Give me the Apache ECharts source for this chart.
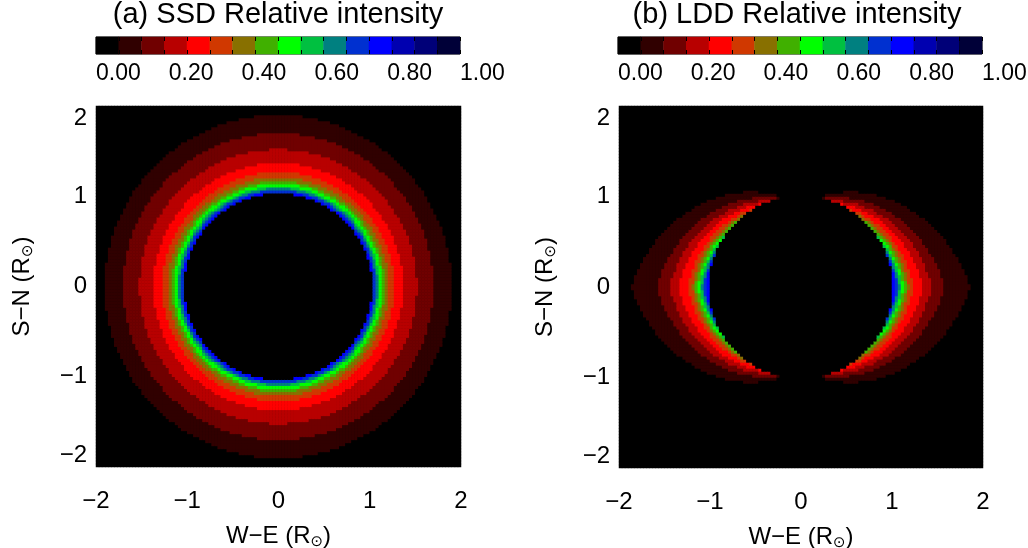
<!DOCTYPE html>
<html>
<head>
<meta charset="utf-8">
<script src="https://cdn.jsdelivr.net/npm/echarts@6/dist/echarts.min.js"></script>
<style>
  html, body { margin: 0; padding: 0; background: #fff; }
  #chart { width: 1028px; height: 548px; }
</style>
</head>
<body>
<div id="chart"></div>
<script>
// grid of the two images: 120 x 120 cells over -2..2 R_sun
const cellCount = 120;
const axisMin = -2;
const axisMax = 2;

// 16 colour levels of the colour bar (0.00 .. 1.00)
const levelColors = ['#000000', '#300000', '#700000', '#b80000', '#ff0000', '#d03800', '#887000', '#40b000',
    '#00ff00', '#00c040', '#008080', '#0030d0', '#0000ff', '#0000b0', '#000078', '#000038'];
const barLevels = [0, 1, 2, 3, 4, 5, 6, 7, 8, 9, 10, 11, 12, 13, 14, 15];

// SSD: radius (R_sun) inside which the level is at least k (k = 1..12)
const ssdOccult = 1.03;
const ssdEdgeRadius = [1.90, 1.70, 1.52, 1.37, 1.27, 1.21, 1.17, 1.14, 1.11, 1.09, 1.07, 1.05];

// LDD: equator tip (R_sun) of level k and angle from the equator (deg) where it meets the occulter
const lddOccult = 1.01;
const lddTipX = [1.86, 1.58, 1.44, 1.34, 1.24, 1.19, 1.16, 1.13, 1.11, 1.09, 1.07, 1.05];
const lddEndAngle = [79, 76, 72, 67, 61, 54, 47, 40, 34, 28, 22, 17];

const fontMain = 'Liberation Sans, DejaVu Sans, sans-serif';

function ssdLevel(x, y) {
    const r = Math.hypot(x, y);
    if (r < ssdOccult) return 0;
    let lv = 0;
    ssdEdgeRadius.forEach(function (e, k) {
        if (r < e) lv = k + 1;
    });
    return lv;
}

function lddLevel(x, y) {
    const r = Math.hypot(x, y);
    if (r < lddOccult) return 0;
    const theta = Math.atan2(Math.abs(y), Math.abs(x)) * 180 / Math.PI;
    let lv = 0;
    lddTipX.forEach(function (tip, k) {
        const t = theta / lddEndAngle[k];
        if (t >= 1) return;
        const edge = lddOccult + (tip - lddOccult) * (1 - t);
        if (r <= edge) lv = k + 1;
    });
    return lv;
}

function buildCells(levelFn) {
    const step = (axisMax - axisMin) / cellCount;
    const data = [];
    for (let i = 0; i < cellCount; i++) {
        for (let j = 0; j < cellCount; j++) {
            const x = axisMin + (i + 0.5) * step;
            const y = axisMin + (j + 0.5) * step;
            data.push([i, j, levelFn(x, y)]);
        }
    }
    return data;
}

function minusLabel(v) {
    return String(v).replace('-', '\u2212');
}

function initChart() {
    const chart = echarts.init(document.getElementById('chart'), null, { renderer: 'canvas' });
    const cellIndex = [];
    for (let i = 0; i < cellCount; i++) cellIndex.push(String(i));

    const hiddenCat = function (grid, data, pos) {
        return {
            type: 'category', gridIndex: grid, data: data, show: false,
            position: pos, boundaryGap: true
        };
    };
    // colour-bar block boundaries get small inward ticks on both edges
    const barTicks = function (grid, pos) {
        return {
            type: 'category', gridIndex: grid, data: barLevels, position: pos, boundaryGap: true, z: 10,
            axisLine: { show: false }, axisLabel: { show: false }, splitLine: { show: false },
            axisTick: { show: true, inside: true, length: 4, lineStyle: { color: '#000', width: 1 } }
        };
    };
    const tickLabel = {
        fontFamily: fontMain, fontSize: 24, color: '#000'
    };
    const nameStyle = {
        fontFamily: fontMain, fontSize: 24, color: '#000',
        rich: {
            s: { fontFamily: 'DejaVu Sans', fontSize: 15, color: '#000', padding: [12, 0, 0, 0] }
        }
    };
    const xValue = function (grid) {
        return {
            type: 'value', gridIndex: grid, position: 'bottom', min: axisMin, max: axisMax, interval: 1,
            axisLine: { show: false }, axisTick: { show: false }, splitLine: { show: false },
            axisLabel: Object.assign({ margin: 22, formatter: minusLabel }, tickLabel),
            name: 'W\u2212E (R{s|\u2299})', nameLocation: 'middle', nameGap: 56,
            nameTextStyle: nameStyle
        };
    };
    const yValue = function (grid) {
        return {
            type: 'value', gridIndex: grid, position: 'left', min: axisMin, max: axisMax, interval: 1,
            axisLine: { show: false }, axisTick: { show: false }, splitLine: { show: false },
            axisLabel: Object.assign({
                margin: 9, formatter: minusLabel,
                verticalAlignMaxLabel: 'top', verticalAlignMinLabel: 'bottom'
            }, tickLabel),
            name: 'S\u2212N (R{s|\u2299})', nameLocation: 'middle', nameGap: 60,
            nameTextStyle: nameStyle
        };
    };
    const barValue = function (grid) {
        return {
            type: 'value', gridIndex: grid, min: 0, max: 1, interval: 0.2, position: 'bottom',
            axisLine: { show: false }, axisTick: { show: false }, splitLine: { show: false },
            axisLabel: {
                margin: 8, align: 'left', fontFamily: fontMain, fontSize: 23, color: '#000',
                formatter: function (v) { return v.toFixed(2); }
            }
        };
    };
    const titleStyle = { fontFamily: fontMain, fontSize: 29, fontWeight: 'normal', color: '#000' };

    const option = {
        animation: false,
        backgroundColor: '#fff',
        title: [
            { text: '(a) SSD Relative intensity', left: 278, top: 0, textAlign: 'center', padding: 0,
              textStyle: titleStyle },
            { text: '(b) LDD Relative intensity', left: 797, top: 0, textAlign: 'center', padding: 0,
              textStyle: titleStyle }
        ],
        grid: [
            { left: 96, top: 106, width: 365, height: 361, outerBoundsMode: 'none',
              show: true, backgroundColor: '#000', borderWidth: 0 },
            { left: 619, top: 106, width: 364, height: 362, outerBoundsMode: 'none',
              show: true, backgroundColor: '#000', borderWidth: 0 },
            { left: 96, top: 37, width: 364, height: 17, outerBoundsMode: 'none',
              show: true, borderColor: '#000', borderWidth: 1 },
            { left: 618, top: 37, width: 364, height: 17, outerBoundsMode: 'none',
              show: true, borderColor: '#000', borderWidth: 1 }
        ],
        xAxis: [
            hiddenCat(0, cellIndex, 'top'), xValue(0),
            hiddenCat(1, cellIndex, 'top'), xValue(1),
            barTicks(2, 'top'), barValue(2),
            barTicks(3, 'top'), barValue(3),
            barTicks(2, 'bottom'), barTicks(3, 'bottom')
        ],
        yAxis: [
            hiddenCat(0, cellIndex, 'right'), yValue(0),
            hiddenCat(1, cellIndex, 'right'), yValue(1),
            hiddenCat(2, ['0'], 'right'), hiddenCat(3, ['0'], 'right')
        ],
        visualMap: {
            type: 'piecewise', show: false, dimension: 2, seriesIndex: [0, 1, 2, 3],
            pieces: levelColors.map(function (c, k) { return { value: k, color: c }; })
        },
        series: [
            { type: 'heatmap', xAxisIndex: 0, yAxisIndex: 0, data: buildCells(ssdLevel),
              progressive: 0, emphasis: { disabled: true } },
            { type: 'heatmap', xAxisIndex: 2, yAxisIndex: 2, data: buildCells(lddLevel),
              progressive: 0, emphasis: { disabled: true } },
            { type: 'heatmap', xAxisIndex: 4, yAxisIndex: 4, data: barLevels.map(function (k) { return [k, 0, k]; }),
              progressive: 0, emphasis: { disabled: true } },
            { type: 'heatmap', xAxisIndex: 6, yAxisIndex: 5, data: barLevels.map(function (k) { return [k, 0, k]; }),
              progressive: 0, emphasis: { disabled: true } }
        ]
    };

    chart.setOption(option);
}

window.onload = function () {
    initChart();
};
</script>
</body>
</html>
